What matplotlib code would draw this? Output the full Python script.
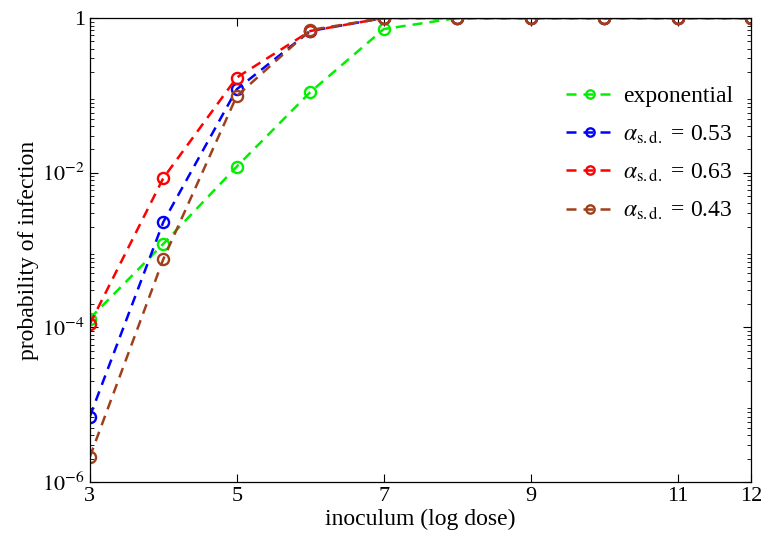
import numpy as np
import matplotlib.pyplot as plt
from matplotlib.ticker import FixedLocator, FixedFormatter, LogLocator, NullFormatter

plt.rcParams['font.family'] = ['Liberation Serif', 'DejaVu Serif']
plt.rcParams['mathtext.fontset'] = 'stix'

# dosis (log) y probabilidades
dosis = [3, 4, 5, 6, 7, 8, 9, 10, 11, 12]
p_exp = [1.3e-4, 1.2e-3, 1.2e-2, 0.11, 0.72, 1, 1, 1, 1, 1]
p_053 = [7e-6, 2.3e-3, 0.12, 0.68, 1, 1, 1, 1, 1, 1]
p_063 = [1.1e-4, 8.5e-3, 0.17, 0.68, 1, 1, 1, 1, 1, 1]
p_043 = [2.1e-6, 7.6e-4, 0.098, 0.70, 1, 1, 1, 1, 1, 1]

etiquetas = ['exponential',
             r'$\alpha_{\mathrm{s.d.}}$ = 0.53',
             r'$\alpha_{\mathrm{s.d.}}$ = 0.63',
             r'$\alpha_{\mathrm{s.d.}}$ = 0.43']
colores = ['#00f000', '#0000ff', '#ff0000', '#a0401a']
xticks = [3, 5, 7, 9, 11, 12]
yticks = [1e-6, 1e-4, 1e-2, 1]
ytick_labels = [r'$10^{-6}$', r'$10^{-4}$', r'$10^{-2}$', '1']

fig = plt.figure(figsize=(7.61, 5.37), dpi=100)
ax = fig.add_axes([0.118, 0.1024, 0.869, 0.864])

for p, lab, col in zip([p_exp, p_053, p_063, p_043], etiquetas, colores):
    ax.plot(dosis, p, '--o', color=col, label=lab, lw=1.8, dashes=(4, 2.8),
            markersize=8, markerfacecolor='none', markeredgewidth=1.7)

ax.set_yscale('log')
ax.set_xlim(3, 12)
ax.set_ylim(1e-6, 1)
ax.xaxis.set_major_locator(FixedLocator(xticks))
ax.yaxis.set_major_locator(FixedLocator(yticks))
ax.yaxis.set_major_formatter(FixedFormatter(ytick_labels))
ax.yaxis.set_minor_locator(LogLocator(base=10, subs=np.arange(2, 10), numticks=20))
ax.yaxis.set_minor_formatter(NullFormatter())
ax.tick_params(which='both', direction='in', top=True, right=True, labelsize=16)
ax.tick_params(which='major', length=6)
ax.tick_params(which='minor', length=3)
for s in ax.spines.values():
    s.set_linewidth(0.9)

ax.set_xlabel('inoculum (log dose)', fontsize=17, labelpad=2)
ax.set_ylabel('probability of infection', fontsize=17, labelpad=2)

ax.legend(loc='upper right', bbox_to_anchor=(1.005, 0.9), frameon=False,
          fontsize=17, handlelength=2.0, labelspacing=0.68, handletextpad=0.4,
          markerscale=0.75)

plt.savefig("out.png")
